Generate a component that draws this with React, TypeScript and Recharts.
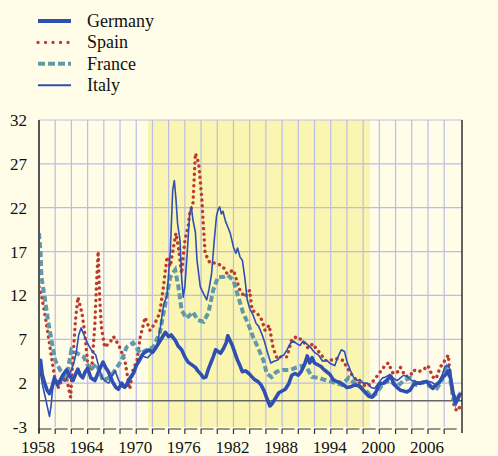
import { LineChart, Line, XAxis, YAxis, CartesianGrid, ReferenceLine } from "recharts"

// year, % change
const germany: [number, number][] = [
  [1958.0, 3.5], [1958.2, 4.6], [1958.4, 3.0], [1958.7, 2.0], [1959.0, 1.2], [1959.3, 0.8], [1959.6, 1.5], [1959.9, 2.6],
  [1960.3, 1.8], [1960.7, 2.5], [1961.0, 3.0], [1961.4, 3.5], [1961.8, 2.8], [1962.2, 2.3], [1962.6, 3.2], [1962.8, 3.6],
  [1963.1, 2.9], [1963.4, 2.6], [1963.7, 3.3], [1964.0, 3.7], [1964.4, 2.6], [1964.9, 2.3], [1965.3, 3.2], [1965.6, 3.8],
  [1965.9, 4.4], [1966.2, 3.8], [1966.5, 3.4], [1966.8, 2.8], [1967.1, 2.1], [1967.5, 1.5], [1967.8, 1.3], [1968.2, 2.0],
  [1968.5, 1.6], [1968.8, 1.8], [1969.1, 2.4], [1969.4, 2.8], [1969.7, 3.2], [1970.0, 4.0], [1970.4, 4.6], [1970.8, 5.3],
  [1971.2, 5.6], [1971.6, 5.8], [1972.0, 5.5], [1972.4, 6.0], [1972.8, 6.6], [1973.2, 7.2], [1973.6, 7.8], [1974.0, 7.3],
  [1974.3, 7.5], [1974.8, 6.9], [1975.2, 6.2], [1975.6, 5.8], [1976.0, 5.0], [1976.4, 4.4], [1977.0, 4.0], [1977.3, 3.8],
  [1977.6, 3.4], [1978.0, 3.0], [1978.3, 2.6], [1978.6, 2.7], [1978.9, 3.6], [1979.2, 4.3], [1979.5, 5.0], [1979.8, 5.8],
  [1980.1, 5.6], [1980.4, 5.4], [1980.8, 6.0], [1981.1, 6.6], [1981.3, 7.4], [1981.6, 6.8], [1981.9, 6.2], [1982.2, 5.4],
  [1982.5, 4.6], [1982.8, 4.0], [1983.1, 3.3], [1983.5, 3.4], [1983.9, 3.1], [1984.2, 2.8], [1984.6, 2.4], [1985.0, 2.2],
  [1985.4, 1.8], [1985.8, 1.1], [1986.1, 0.3], [1986.5, -0.6], [1986.8, -0.3], [1987.2, 0.3], [1987.6, 0.9], [1988.0, 1.1],
  [1988.4, 1.3], [1988.8, 1.9], [1989.2, 2.9], [1989.6, 3.1], [1990.0, 2.9], [1990.4, 3.4], [1990.8, 4.2], [1991.1, 5.1],
  [1991.4, 4.3], [1991.7, 4.9], [1992.0, 4.3], [1992.4, 4.1], [1992.8, 3.9], [1993.1, 3.6], [1993.5, 3.3], [1993.9, 3.0],
  [1994.3, 2.4], [1994.7, 2.2], [1995.1, 2.1], [1995.6, 1.8], [1996.0, 1.5], [1996.5, 1.6], [1997.0, 1.8], [1997.5, 1.7],
  [1997.9, 1.3], [1998.3, 0.9], [1998.7, 0.5], [1999.1, 0.4], [1999.6, 1.0], [2000.0, 1.9], [2000.5, 2.0], [2000.9, 2.3],
  [2001.4, 2.8], [2001.8, 1.9], [2002.2, 1.5], [2002.6, 1.2], [2003.0, 1.1], [2003.4, 1.0], [2003.8, 1.2], [2004.2, 1.8],
  [2004.6, 2.0], [2005.0, 2.0], [2005.4, 2.1], [2005.8, 2.2], [2006.2, 1.8], [2006.6, 1.4], [2007.0, 1.8], [2007.4, 2.1],
  [2007.8, 2.7], [2008.1, 2.9], [2008.5, 3.4], [2008.8, 2.5], [2009.1, 0.9], [2009.4, -0.3], [2009.7, 0.2], [2010.0, 0.9],
]

const spain: [number, number][] = [
  [1958.0, 13.0], [1958.3, 12.0], [1958.7, 10.0], [1959.1, 7.7], [1959.6, 4.6], [1960.0, 2.3], [1960.4, 1.5], [1960.8, 2.3],
  [1961.4, 2.7], [1961.7, 1.2], [1961.9, 0.4], [1962.2, 5.0], [1962.5, 9.2], [1962.8, 11.8], [1963.3, 10.0], [1963.7, 7.3],
  [1964.0, 4.3], [1964.5, 3.5], [1964.9, 8.8], [1965.1, 13.4], [1965.3, 17.0], [1965.5, 11.5], [1965.7, 8.4], [1966.1, 6.1],
  [1966.8, 6.7], [1967.2, 7.3], [1967.6, 6.7], [1968.0, 6.0], [1968.6, 4.6], [1969.0, 2.3], [1969.2, 1.3], [1969.6, 3.5],
  [1970.1, 4.6], [1970.5, 7.3], [1971.1, 9.5], [1971.7, 8.0], [1972.3, 8.8], [1972.9, 10.0], [1973.3, 12.6], [1973.8, 16.4],
  [1974.2, 15.3], [1974.6, 17.5], [1974.9, 19.1], [1975.2, 17.5], [1975.6, 14.5], [1976.0, 18.3], [1976.4, 19.8], [1976.6, 21.4],
  [1977.0, 22.5], [1977.3, 28.2], [1977.7, 27.1], [1977.9, 25.1], [1978.1, 22.9], [1978.3, 19.8], [1978.5, 16.8], [1979.1, 15.7],
  [1979.9, 15.7], [1980.7, 15.3], [1981.2, 14.5], [1982.0, 14.9], [1982.4, 13.7], [1982.8, 12.6], [1983.4, 11.8], [1984.0, 12.6],
  [1984.3, 10.3], [1984.9, 10.0], [1985.5, 9.2], [1985.9, 8.0], [1986.4, 8.6], [1986.9, 6.0], [1987.4, 4.8], [1987.8, 5.0],
  [1988.6, 5.0], [1989.2, 7.0], [1989.8, 7.3], [1990.6, 6.8], [1991.2, 6.0], [1991.8, 6.5], [1992.3, 5.8], [1992.7, 5.4],
  [1993.3, 4.6], [1993.9, 4.6], [1994.7, 4.8], [1995.5, 4.6], [1996.2, 3.5], [1996.8, 2.7], [1997.6, 2.0], [1998.5, 1.6],
  [1999.3, 2.3], [2000.3, 3.5], [2000.7, 4.0], [2001.1, 4.3], [2001.7, 3.1], [2002.3, 3.3], [2002.6, 3.8], [2003.2, 2.8],
  [2003.8, 2.8], [2004.2, 3.5], [2004.8, 3.3], [2005.4, 3.5], [2006.0, 4.0], [2006.6, 2.7], [2007.0, 2.5], [2007.5, 3.8],
  [2008.1, 4.6], [2008.5, 5.2], [2008.9, 1.5], [2009.2, -0.5], [2009.5, -1.1], [2009.8, -1.1], [2010.0, -0.3],
]

const france: [number, number][] = [
  [1958.0, 19.1], [1958.2, 16.8], [1958.3, 14.1], [1958.7, 11.8], [1959.1, 9.2], [1959.6, 6.6], [1960.0, 4.6], [1960.6, 3.5],
  [1961.4, 2.7], [1962.0, 5.8], [1962.7, 5.4], [1963.5, 5.0], [1964.3, 3.5], [1965.1, 4.2], [1965.9, 2.3], [1966.8, 2.7],
  [1967.6, 3.8], [1968.2, 4.6], [1968.8, 6.1], [1969.6, 6.6], [1970.5, 5.4], [1971.3, 5.8], [1972.1, 6.1], [1972.9, 7.7],
  [1973.6, 11.1], [1974.2, 14.1], [1974.8, 14.9], [1975.2, 13.0], [1975.6, 10.3], [1976.2, 9.4], [1977.0, 10.1], [1977.6, 9.2],
  [1978.3, 9.0], [1978.9, 10.0], [1979.5, 12.6], [1980.1, 14.1], [1980.7, 14.1], [1981.3, 14.3], [1982.0, 13.7], [1982.6, 11.8],
  [1983.2, 10.0], [1983.8, 8.8], [1984.4, 7.3], [1985.0, 6.1], [1985.7, 4.6], [1986.1, 3.1], [1986.7, 2.7], [1987.3, 3.3],
  [1988.1, 3.5], [1989.0, 3.5], [1989.8, 3.8], [1990.6, 4.0], [1991.0, 3.8], [1991.7, 2.7], [1992.5, 2.6], [1993.5, 2.3],
  [1994.3, 2.1], [1995.4, 1.8], [1996.2, 2.6], [1996.8, 2.1], [1997.6, 1.6], [1998.5, 1.0], [1999.1, 0.4], [1999.7, 0.9],
  [2000.5, 2.0], [2001.3, 2.3], [2002.2, 1.6], [2003.0, 2.3], [2003.8, 2.6], [2004.6, 1.8], [2005.4, 2.1], [2006.3, 1.6],
  [2007.1, 1.4], [2007.7, 2.3], [2008.3, 3.7], [2008.7, 2.7], [2009.1, 0.4], [2009.4, -0.3], [2010.0, 1.0],
]

const italy: [number, number][] = [
  [1958.0, 4.6], [1958.2, 3.0], [1958.5, 1.5], [1958.8, 0.3], [1959.1, -1.0], [1959.3, -1.8], [1959.5, -0.5], [1959.7, 1.5],
  [1960.0, 2.5], [1960.4, 2.0], [1960.8, 2.4], [1961.2, 2.2], [1961.6, 2.8], [1962.0, 3.5], [1962.3, 4.3], [1962.6, 5.5],
  [1962.9, 7.5], [1963.2, 8.3], [1963.5, 7.6], [1963.8, 6.9], [1964.2, 6.2], [1964.6, 5.6], [1965.0, 5.2], [1965.4, 3.8],
  [1965.8, 2.6], [1966.2, 2.2], [1966.6, 2.0], [1967.0, 2.8], [1967.4, 3.4], [1967.8, 2.4], [1968.2, 1.6], [1968.6, 1.4],
  [1969.0, 1.8], [1969.4, 2.6], [1969.8, 3.5], [1970.2, 4.6], [1970.6, 5.2], [1971.0, 5.0], [1971.4, 4.9], [1971.8, 5.3],
  [1972.2, 5.6], [1972.6, 6.4], [1973.0, 8.5], [1973.4, 11.0], [1973.8, 12.0], [1974.2, 17.0], [1974.5, 24.0], [1974.7, 25.1],
  [1974.9, 23.0], [1975.1, 20.2], [1975.4, 18.3], [1975.6, 14.0], [1975.8, 11.8], [1976.0, 13.0], [1976.3, 17.0], [1976.6, 21.4],
  [1976.8, 22.1], [1977.0, 20.6], [1977.3, 19.2], [1977.5, 16.0], [1977.9, 13.0], [1978.3, 12.2], [1978.7, 11.5], [1979.0, 12.8],
  [1979.3, 14.5], [1979.6, 18.0], [1979.9, 21.0], [1980.1, 21.8], [1980.3, 22.1], [1980.5, 21.3], [1980.7, 21.6], [1981.0, 20.5],
  [1981.3, 19.8], [1981.6, 19.1], [1982.0, 17.5], [1982.3, 16.8], [1982.5, 17.4], [1982.8, 16.4], [1983.1, 16.0], [1983.4, 14.0],
  [1983.7, 11.5], [1984.0, 10.5], [1984.4, 9.8], [1984.8, 8.8], [1985.1, 8.5], [1985.5, 7.6], [1985.8, 6.8], [1986.2, 5.5],
  [1986.6, 4.3], [1987.0, 4.5], [1987.4, 4.6], [1987.8, 5.0], [1988.2, 5.2], [1988.6, 5.8], [1989.0, 6.5], [1989.4, 6.8],
  [1989.8, 6.5], [1990.2, 6.3], [1990.6, 6.8], [1991.0, 6.5], [1991.5, 6.1], [1992.0, 5.5], [1992.5, 5.2], [1993.0, 4.5],
  [1993.5, 4.6], [1994.0, 4.2], [1994.5, 4.0], [1994.9, 5.0], [1995.3, 5.8], [1995.7, 5.6], [1996.0, 4.5], [1996.4, 3.5],
  [1996.8, 2.7], [1997.2, 2.3], [1997.6, 2.4], [1998.0, 2.0], [1998.5, 2.0], [1999.0, 1.5], [1999.4, 1.4], [1999.9, 2.0],
  [2000.4, 2.6], [2000.8, 2.7], [2001.3, 3.0], [2001.8, 2.5], [2002.2, 2.3], [2002.6, 2.6], [2003.0, 2.9], [2003.5, 2.7],
  [2004.0, 2.3], [2004.5, 2.2], [2005.0, 2.0], [2005.5, 2.1], [2006.0, 2.2], [2006.5, 2.1], [2006.9, 1.8], [2007.3, 2.0],
  [2007.7, 2.8], [2008.1, 3.9], [2008.5, 4.0], [2008.8, 3.4], [2009.1, 1.0], [2009.4, 0.4], [2009.6, 0.0], [2010.0, 0.9],
]

const yTicks = [-3, 2, 7, 12, 17, 22, 27, 32]
const gridY = [2, 7, 12, 17, 22, 27, 32]
const xTicks = [1958, 1960, 1962, 1964, 1966, 1968, 1970, 1972, 1974, 1976, 1978, 1980, 1982, 1984, 1986, 1988, 1990, 1992, 1994, 1996, 1998, 2000, 2002, 2004, 2006, 2008]
const xLabels = [1958, 1964, 1970, 1976, 1982, 1988, 1994, 2000, 2006]
const gridX = xTicks.slice(1)
const xEnd = 2010.2
const band = [1971.5, 1998.9]

const BLUE = "#2f4fb3"
const RED = "#bf3a2e"
const TEAL = "#6199a8"
const BAND = "#fbf5b2"
const FONT = '"Liberation Serif", "Times New Roman", serif'

const toPoints = (s: [number, number][]) => s.map(([t, v]) => ({ t, v }))

function XTick(props: any) {
  const { x, y, payload } = props
  const v = payload.value
  if (v === xEnd) return <line x1={x} x2={x} y1={y} y2={y + 6} stroke="#111" strokeWidth={1.3} />
  return (
    <g>
      {v === xTicks[0] && <line x1={x} x2={x} y1={y} y2={y + 6} stroke="#555" strokeWidth={2} />}
      <path d={`M${x},${y + 7} V${y + 2} H${x + 12.5}`} fill="none" stroke="#333" strokeWidth={1.2} />
      {xLabels.includes(v) && (
        <text x={x - 1} y={y + 26} textAnchor="middle" fontFamily={FONT} fontSize={17} fill="#111">
          {v}
        </text>
      )}
    </g>
  )
}

const legend = [
  { name: "Germany", color: BLUE, width: 4, dash: undefined as string | undefined, cap: "butt" },
  { name: "Spain", color: RED, width: 3.2, dash: "0.1 7.4", cap: "round" },
  { name: "France", color: TEAL, width: 4, dash: "7 3", cap: "butt" },
  { name: "Italy", color: BLUE, width: 2, dash: undefined, cap: "butt" },
]

export default function App() {
  return (
    <div style={{ position: "absolute", left: 0, top: 0, width: 498, height: 456, background: "#fffde8" }}>
      <svg width={200} height={100} style={{ position: "absolute", left: 0, top: 0 }}>
        {legend.map((l, i) => {
          const y = 21 + i * 21.4
          return (
            <g key={l.name}>
              <line x1={38} x2={71} y1={y} y2={y} stroke={l.color} strokeWidth={l.width} strokeDasharray={l.dash} strokeLinecap={l.cap as any} />
              <text x={87} y={y + 6} fontFamily={FONT} fontSize={18} fill="#111">{l.name}</text>
            </g>
          )
        })}
      </svg>
      <LineChart width={498} height={456} margin={{ top: 120, right: 0, bottom: 0, left: 0 }} style={{ position: "absolute", left: 0, top: 0 }}>
        {/* shaded period drawn as a grid stripe so the grid lines stay on top of it */}
        <CartesianGrid horizontal={false} stroke="none" verticalValues={band} verticalFill={["none", BAND, "none"]} fillOpacity={1} />
        <CartesianGrid stroke="#babde6" strokeWidth={1.2} horizontalValues={gridY} verticalValues={gridX} />
        <XAxis
          dataKey="t"
          type="number"
          domain={[1958, xEnd]}
          ticks={[...xTicks, xEnd]}
          interval={0}
          height={29}
          axisLine={false}
          tickLine={false}
          tickSize={0}
          tickMargin={0}
          tick={XTick}
          allowDataOverflow
        />
        <YAxis
          type="number"
          domain={[-3, 32]}
          ticks={yTicks}
          interval={0}
          width={39}
          axisLine={{ stroke: "#555", strokeWidth: 2 }}
          tickLine={false}
          tickSize={0}
          tickMargin={12}
          tick={{ fill: "#111", fontSize: 17, fontFamily: FONT }}
        />
        <YAxis
          yAxisId="r"
          orientation="right"
          type="number"
          domain={[-3, 32]}
          ticks={yTicks}
          interval={0}
          width={36}
          axisLine={{ stroke: "#111", strokeWidth: 1.3 }}
          tickLine={false}
          tickSize={0}
          tickMargin={13}
          tick={{ fill: "#111", fontSize: 17, fontFamily: FONT, textAnchor: "start" }}
        />
        <ReferenceLine y={0} stroke="#666" strokeWidth={1.5} />
        <Line data={toPoints(spain)} dataKey="v" type="linear" stroke={RED} strokeWidth={3.4} strokeDasharray="0.1 5.6" strokeLinecap="round" dot={false} isAnimationActive={false} />
        <Line data={toPoints(france)} dataKey="v" type="linear" stroke={TEAL} strokeWidth={4} strokeDasharray="6 3" dot={false} isAnimationActive={false} />
        <Line data={toPoints(germany)} dataKey="v" type="linear" stroke={BLUE} strokeWidth={3.6} strokeLinejoin="round" dot={false} isAnimationActive={false} />
        <Line data={toPoints(italy)} dataKey="v" type="linear" stroke={BLUE} strokeWidth={1.6} strokeLinejoin="round" dot={false} isAnimationActive={false} />
      </LineChart>
    </div>
  )
}
